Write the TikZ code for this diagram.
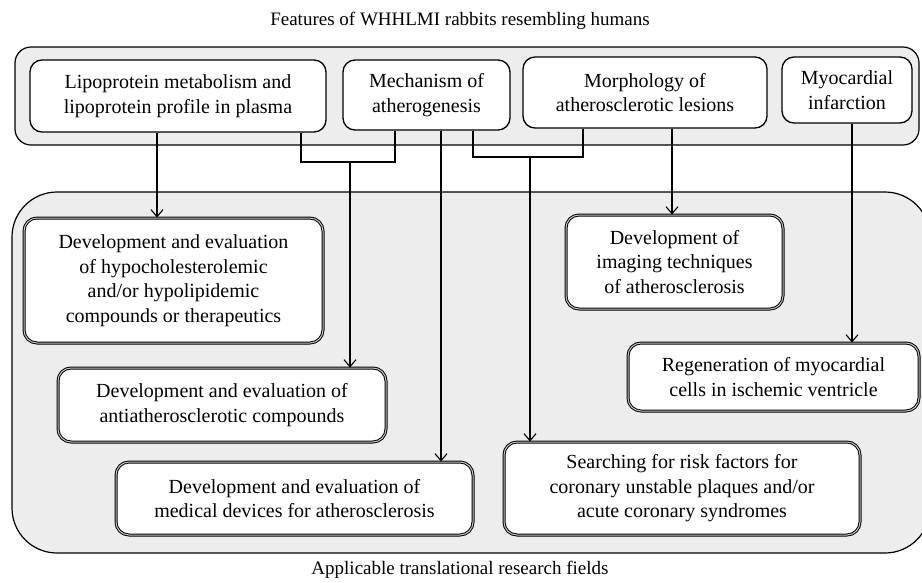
\documentclass[tikz,border=0pt]{standalone}
\usepackage{fontspec}
\setmainfont{Liberation Serif}
\usetikzlibrary{arrows.meta}
\begin{document}
\begin{tikzpicture}[x=1pt,y=-1pt,
  txt/.style={font=\fontsize{20}{24.5}\selectfont},
  captxt/.style={font=\fontsize{19}{23}\selectfont},
  topbox/.style={txt, draw=black, line width=1.3pt, rounded corners=12pt, fill=white, align=center, inner sep=0pt},
  botbox/.style={txt, draw=black, line width=1pt, double=gray!45, double distance=1pt, rounded corners=13pt, fill=white, align=center, inner sep=0pt},
  frame/.style={draw=black, line width=1.2pt, fill=gray!14, inner sep=0pt},
  conn/.style={draw=black, line width=1.1pt},
  arr/.style={conn, -{Straight Barb[length=7pt,width=12pt,line width=1.1pt]}}]
\useasboundingbox (0,0) rectangle (922,582);
\clip (0,0) rectangle (922,582);
\fill[white] (0,0) rectangle (922,582);

% frames
\node[frame, rounded corners=16pt, minimum width=904pt, minimum height=98pt] (topframe) at (467,96) {};
\node[frame, rounded corners=45pt, minimum width=918pt, minimum height=361pt] (botframe) at (471,372.5) {};

% captions
\node[captxt] (title) at (460,21) {Features of WHHLMI rabbits resembling humans};
\node[captxt] (caption) at (460,570) {Applicable translational research fields};

% top boxes
\node[topbox, minimum width=296pt, minimum height=72pt] (b1) at (178,96) {Lipoprotein metabolism and\\lipoprotein profile in plasma};
\node[topbox, minimum width=167pt, minimum height=70pt] (b2) at (426.5,95) {Mechanism of\\atherogenesis};
\node[topbox, minimum width=244pt, minimum height=71pt] (b3) at (645,92.5) {Morphology of\\atherosclerotic lesions};
\node[topbox, minimum width=130pt, minimum height=66pt] (b4) at (847,90) {Myocardial\\infarction};

% bottom boxes
\node[botbox, minimum width=299pt, minimum height=125pt] (hypo) at (173.5,280.5) {Development and evaluation\\of hypocholesterolemic\\and/or hypolipidemic\\compounds or therapeutics};
\node[botbox, minimum width=217pt, minimum height=94pt] (imag) at (674.5,262) {Development of\\imaging techniques\\of atherosclerosis};
\node[botbox, minimum width=291pt, minimum height=68pt] (regen) at (773.5,377) {Regeneration of myocardial\\cells in ischemic ventricle};
\node[botbox, minimum width=328pt, minimum height=74pt] (anti) at (222,405) {Development and evaluation of\\antiatherosclerotic compounds};
\node[botbox, minimum width=357pt, minimum height=73pt] (med) at (294.5,498.5) {Development and evaluation of\\medical devices for atherosclerosis};
\node[botbox, minimum width=356pt, minimum height=93pt] (search) at (682,488.5) {Searching for risk factors for\\coronary unstable plaques and/or\\acute coronary syndromes};

% connector x positions
\coordinate (c1) at (157,0);
\coordinate (c2) at (441,0);
\coordinate (c3) at (672,0);
\coordinate (c4) at (852,0);
\coordinate (k1a) at (301,162);
\coordinate (k1b) at (395,162);
\coordinate (k1m) at (350,162);
\coordinate (k2a) at (473,157);
\coordinate (k2b) at (583,157);
\coordinate (k2m) at (530,157);

\draw[arr] (c1 |- b1.south) -- (c1 |- hypo.north);
\draw[arr] (c2 |- b2.south) -- (c2 |- med.north);
\draw[arr] (c3 |- b3.south) -- (c3 |- imag.north);
\draw[arr] (c4 |- b4.south) -- (c4 |- regen.north);
\draw[conn] (k1a |- b1.south) -- (k1a) -- (k1b) -- (k1b |- b2.south);
\draw[arr] (k1m) -- (k1m |- anti.north);
\draw[conn] (k2a |- b2.south) -- (k2a) -- (k2b) -- (k2b |- b3.south);
\draw[arr] (k2m) -- (k2m |- search.north);
\end{tikzpicture}
\end{document}
